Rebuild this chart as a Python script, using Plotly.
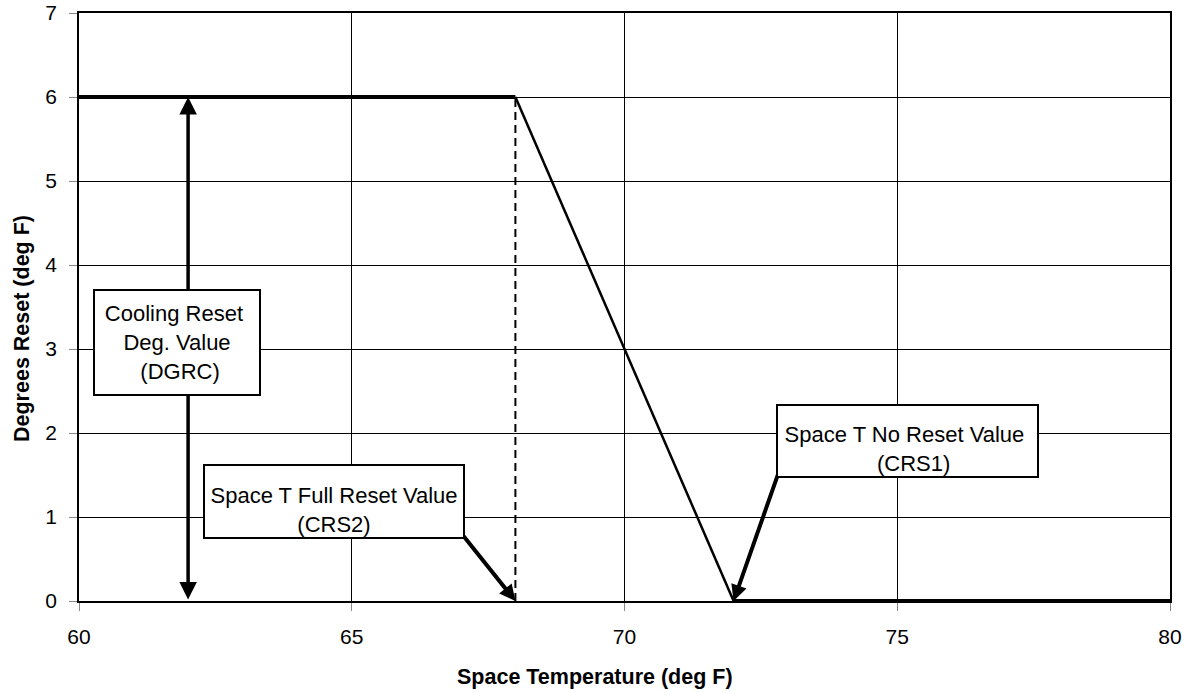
import plotly.graph_objects as go

# Data
space_temp = [60, 68, 72, 80]
degrees_reset = [6, 6, 0, 0]
x_ticks = [60, 65, 70, 75, 80]
y_ticks = [0, 1, 2, 3, 4, 5, 6, 7]
crs2 = 68
crs1 = 72
dgrc = 6
dgrc_arrow_x = 62

FONT = "Liberation Sans, Arial, sans-serif"

fig = go.Figure()

fig.add_trace(go.Scatter(x=space_temp[0:2], y=degrees_reset[0:2], mode="lines",
                         line=dict(color="black", width=4), showlegend=False, hoverinfo="skip"))
fig.add_trace(go.Scatter(x=space_temp[2:4], y=degrees_reset[2:4], mode="lines",
                         line=dict(color="black", width=4), showlegend=False, hoverinfo="skip"))
fig.add_trace(go.Scatter(x=space_temp[1:3], y=degrees_reset[1:3], mode="lines",
                         line=dict(color="black", width=2.5), showlegend=False, hoverinfo="skip"))
fig.add_trace(go.Scatter(x=[crs2, crs2], y=[0, dgrc], mode="lines",
                         line=dict(color="black", width=2, dash="8px,5px"), showlegend=False, hoverinfo="skip"))

annotations = []
annotations.append(dict(x=dgrc_arrow_x, y=dgrc, ax=dgrc_arrow_x, ay=0, xref="x", yref="y",
                        axref="x", ayref="y", text="", showarrow=True, arrowhead=2, startarrowhead=2,
                        arrowside="end+start", arrowwidth=3.5, arrowsize=1, startarrowsize=1,
                        arrowcolor="black", standoff=0, startstandoff=0))
annotations.append(dict(x=crs2, y=0, ax=67.03, ay=0.79, xref="x", yref="y", axref="x", ayref="y",
                        text="", showarrow=True, arrowhead=2, arrowwidth=4, arrowsize=0.8,
                        arrowcolor="black", standoff=0))
annotations.append(dict(x=crs1, y=0, ax=72.82, ay=1.52, xref="x", yref="y", axref="x", ayref="y",
                        text="", showarrow=True, arrowhead=2, arrowwidth=4, arrowsize=0.8,
                        arrowcolor="black", standoff=0))

box_font = dict(family=FONT, size=22, color="black")
annotations.append(dict(x=61.797, y=3.077, xref="x", yref="y", showarrow=False,
                        text="Cooling Reset&nbsp;<br>Deg. Value<br>&nbsp;(DGRC)", font=box_font,
                        width=164, height=103, bgcolor="white", bordercolor="black",
                        borderwidth=2, borderpad=0, align="center", valign="middle"))
annotations.append(dict(x=64.675, y=1.185, xref="x", yref="y", showarrow=False,
                        text="Space T Full Reset Value<br>(CRS2)", font=box_font,
                        width=258, height=71, bgcolor="white", bordercolor="black",
                        borderwidth=2, borderpad=0, align="center", valign="bottom"))
annotations.append(dict(x=75.19, y=1.905, xref="x", yref="y", showarrow=False,
                        text="Space T No Reset Value&nbsp;<br>&nbsp;&nbsp;(CRS1)", font=box_font,
                        width=259, height=70, bgcolor="white", bordercolor="black",
                        borderwidth=2, borderpad=0, align="center", valign="bottom"))

title_font = dict(family=FONT, size=21.5, color="black")
annotations.append(dict(x=(595 - 79) / 1091, y=-(677 - 601) / 588, xref="paper", yref="paper",
                        showarrow=False, text="<b>Space Temperature (deg F)</b>", font=title_font,
                        xanchor="center", yanchor="middle"))
annotations.append(dict(x=-(79 - 22) / 1091, y=(601 - 329) / 588, xref="paper", yref="paper",
                        showarrow=False, text="<b>Degrees Reset (deg F)</b>", font=title_font,
                        textangle=-90, xanchor="center", yanchor="middle"))

axis_common = dict(showgrid=True, gridcolor="black", gridwidth=1.3, zeroline=False,
                   showline=True, linecolor="black", linewidth=1.5, mirror=True,
                   ticks="outside", ticklen=8, tickcolor="#888", tickwidth=1,
                   ticklabelstandoff=8, automargin=False,
                   tickfont=dict(family=FONT, size=21, color="black"))

fig.update_layout(
    width=1185, height=692,
    margin=dict(l=79, r=15, t=13, b=91, autoexpand=False),
    plot_bgcolor="white", paper_bgcolor="white",
    font=dict(family=FONT, size=20, color="black"),
    annotations=annotations,
    xaxis=dict(range=[60, 80], tickvals=x_ticks, ticktext=[str(v) for v in x_ticks], **axis_common),
    yaxis=dict(range=[0, 7], tickvals=y_ticks, ticktext=[str(v) for v in y_ticks], **axis_common),
)

fig.write_html("out.html", config={"displayModeBar": False},
               post_script="document.body.style.margin='0';document.body.style.overflow='hidden';")
